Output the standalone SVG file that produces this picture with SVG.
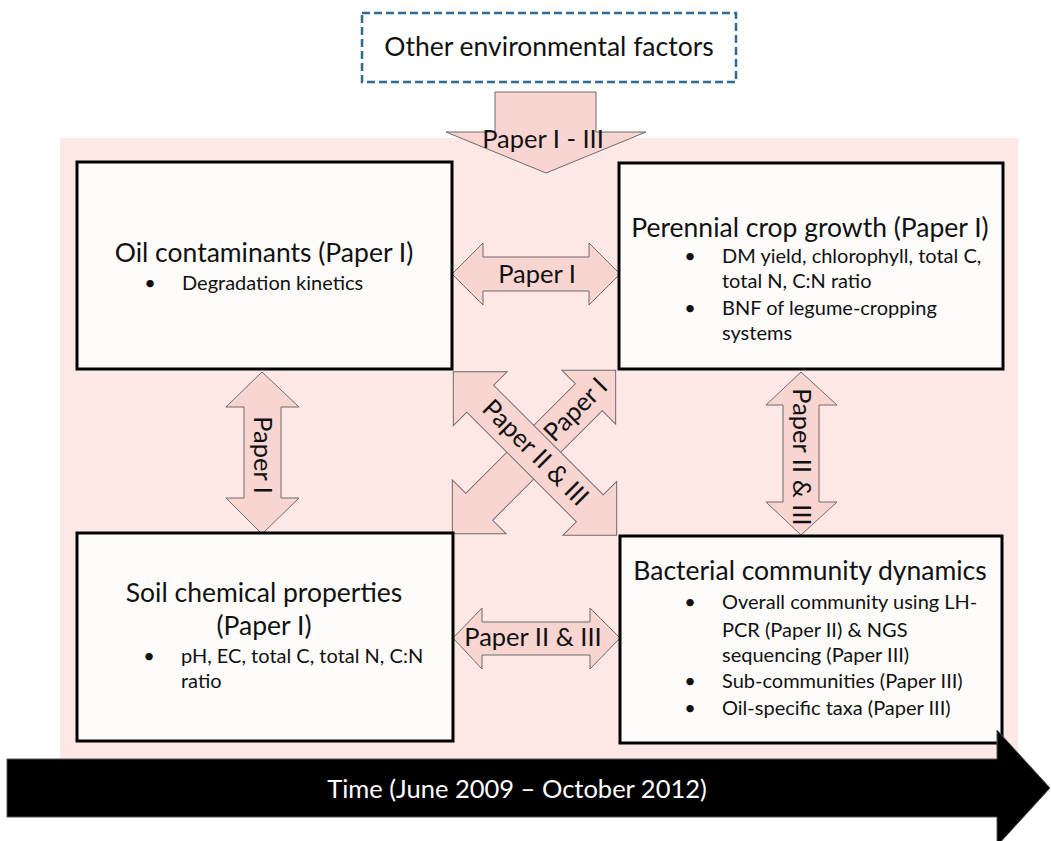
<svg xmlns="http://www.w3.org/2000/svg" width="1051" height="841" viewBox="0 0 1051 841">
<defs>
<style>
text{font-family:Lato,"Open Sans","Liberation Sans",sans-serif;fill:#111}
.t{font-size:26.5px;text-anchor:middle}
.b{font-size:20px}
.lbl{font-size:25.5px;text-anchor:middle}
.box{fill:#FDFCFB;stroke:#000;stroke-width:3}
.arr{fill:#F9D5D2;stroke:#6b6b6b;stroke-width:1}
</style>
<path id="darr" d="M-115.5,0 L-77.5,-38 L-77.5,-19 L77.5,-19 L77.5,-38 L115.5,0 L77.5,38 L77.5,19 L-77.5,19 L-77.5,38 Z"/>
</defs>
<rect x="0" y="0" width="1051" height="841" fill="#fff"/>
<rect x="60" y="138" width="958" height="622" fill="#FDE8E6"/>

<g id="env">
<rect x="362" y="13" width="374" height="69" fill="#fff" stroke="#2F6B94" stroke-width="2.5" stroke-dasharray="8,4"/>
<text class="t" x="549" y="56">Other environmental factors</text>
</g>

<g id="connectors">
<g id="c-env">
<path class="arr" d="M495,92 L596,92 L596,132 L646,132 L546,173 L446,132 L495,132 Z"/>
<text class="lbl" x="543" y="148">Paper I - III</text>
</g>
<g id="c-oil-crop">
<path class="arr" d="M452,274 L483,243 L483,257 L589,257 L589,243 L620,274 L589,305 L589,291 L483,291 L483,305 Z"/>
<text class="lbl" x="537" y="283">Paper I</text>
</g>
<g id="c-soil-bact">
<path class="arr" d="M453,638 L482,608 L482,622 L590,622 L590,608 L620,638 L590,669 L590,655 L482,655 L482,669 Z"/>
<text class="lbl" x="533" y="646">Paper II &amp; III</text>
</g>
<g id="c-oil-soil">
<path class="arr" d="M262,372 L299,407 L281,407 L281,498 L299,498 L262,534 L226,498 L244,498 L244,407 L226,407 Z"/>
<text class="lbl" transform="translate(262,455) rotate(90)" dy="8">Paper I</text>
</g>
<g id="c-crop-bact">
<path class="arr" d="M801,372 L837,405 L819,405 L819,502 L837,502 L801,535 L766,502 L783,502 L783,405 L766,405 Z"/>
<text class="lbl" transform="translate(801,457) rotate(90)" dy="8">Paper II &amp; III</text>
</g>
<g id="c-soil-crop">
<use href="#darr" class="arr" transform="translate(534,452) rotate(-45)"/>
<text class="lbl" transform="translate(576,410) rotate(-45)" dy="8">Paper I</text>
</g>
<g id="c-oil-bact">
<use href="#darr" class="arr" transform="translate(535,453.5) rotate(45)"/>
<text class="lbl" transform="translate(535,453) rotate(45)" dy="8">Paper II &amp; III</text>
</g>
</g>

<g id="oil">
<rect class="box" x="77" y="162" width="375" height="207"/>
<text class="t" x="264" y="262">Oil contaminants (Paper I)</text>
<text class="b" x="150" y="290" text-anchor="middle">•</text>
<text class="b" x="182" y="290">Degradation kinetics</text>
</g>

<g id="crop">
<rect class="box" x="619" y="163" width="384" height="206"/>
<text class="t" x="810" y="237">Perennial crop growth (Paper I)</text>
<text class="b" x="690" y="263" text-anchor="middle">•</text>
<text class="b" x="722" y="263">DM yield, chlorophyll, total C,</text>
<text class="b" x="722" y="288">total N, C:N ratio</text>
<text class="b" x="690" y="315" text-anchor="middle">•</text>
<text class="b" x="722" y="315">BNF of legume-cropping</text>
<text class="b" x="722" y="340">systems</text>
</g>

<g id="soil">
<rect class="box" x="77" y="533" width="376" height="208"/>
<text class="t" x="264" y="602">Soil chemical properties</text>
<text class="t" x="264" y="635">(Paper I)</text>
<text class="b" x="149" y="663" text-anchor="middle">•</text>
<text class="b" x="181" y="663">pH, EC, total C, total N, C:N</text>
<text class="b" x="181" y="688">ratio</text>
</g>

<g id="bact">
<rect class="box" x="620" y="536" width="382" height="207"/>
<text class="t" x="810" y="580">Bacterial community dynamics</text>
<text class="b" x="690" y="609" text-anchor="middle">•</text>
<text class="b" x="722" y="609">Overall community using LH-</text>
<text class="b" x="722" y="637">PCR (Paper II) &amp; NGS</text>
<text class="b" x="722" y="662">sequencing (Paper III)</text>
<text class="b" x="690" y="688" text-anchor="middle">•</text>
<text class="b" x="722" y="688">Sub-communities (Paper III)</text>
<text class="b" x="690" y="715" text-anchor="middle">•</text>
<text class="b" x="722" y="715">Oil-specific taxa (Paper III)</text>
</g>

<g id="time">
<path d="M7,759 L997,759 L997,730 L1050,788 L997,846 L997,817 L7,817 Z" fill="#000" stroke="#555" stroke-width="1"/>
<text x="517" y="798" font-size="25.5" text-anchor="middle" style="fill:#fff">Time (June 2009 – October 2012)</text>
</g>
</svg>
